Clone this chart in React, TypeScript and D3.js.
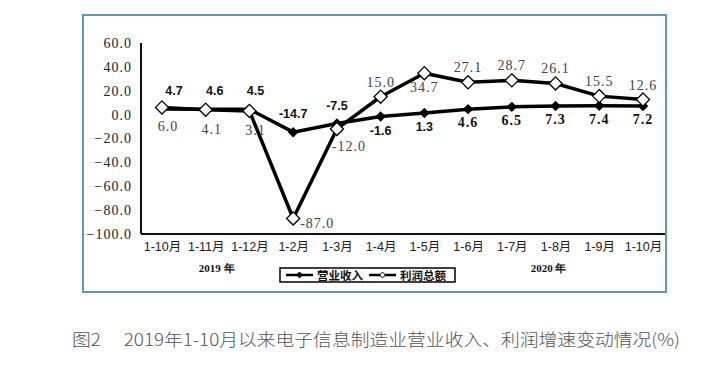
import React, { useEffect, useRef } from 'react';
import * as d3 from 'd3';

const categories = ['1-10月', '1-11月', '1-12月', '1-2月', '1-3月', '1-4月', '1-5月', '1-6月', '1-7月', '1-8月', '1-9月', '1-10月'];
const revenue = [4.7, 4.6, 4.5, -14.7, -7.5, -1.6, 1.3, 4.6, 6.5, 7.3, 7.4, 7.2];
const profit = [6.0, 4.1, 3.1, -87.0, -12.0, 15.0, 34.7, 27.1, 28.7, 26.1, 15.5, 12.6];
const yTicks = [60, 40, 20, 0, -20, -40, -60, -80, -100];
const seriesNames = ['营业收入', '利润总额'];
const yearLabels = ['2019 年', '2020 年'];
const caption = '图2\u3000\u00a02019年1-10月以来电子信息制造业营业收入、利润增速变动情况(%)';

// where each data label sits relative to its marker
const revPlace = ['a', 'a', 'a', 'a', 'a', 'b', 'b', 'b', 'b', 'b', 'b', 'b'];
const profPlace = ['b', 'b', 'b', 'r', 'br', 'a', 'b', 'a', 'a', 'a', 'a', 'a'];

const serif = '"Liberation Serif", "DejaVu Serif", serif';
const sans = '"Liberation Sans", "Noto Sans CJK SC", sans-serif';
const cjk = '"Noto Sans CJK SC", sans-serif';

const App = () => {
  const ref = useRef<SVGSVGElement>(null);

  useEffect(() => {
    if (!ref.current) return;
    const svg = d3.select(ref.current);
    svg.selectAll('*').remove();

    const idx = categories.map((_, i) => i);
    const x = d3.scalePoint<number>().domain(idx).range([162, 643]);
    const y = d3.scaleLinear().domain([-100, 60]).range([234, 43]);

    // outer frame
    svg.append('rect')
      .attr('x', 83).attr('y', 15).attr('width', 583).attr('height', 277)
      .attr('fill', 'white').attr('stroke', '#5b9bb6').attr('stroke-width', 2);

    // y axis
    const yAxis = svg.append('g').attr('transform', 'translate(141,0)')
      .call(d3.axisLeft(y).tickValues(yTicks).tickSize(0).tickPadding(9).tickFormat(d => d3.format('.1f')(d as number)));
    yAxis.select('.domain').attr('stroke', '#111').attr('stroke-width', 2).attr('d', `M0,${y(60)}V${y(-100)}`);
    yAxis.selectAll('text')
      .attr('font-family', serif).attr('font-size', 14).attr('letter-spacing', 1).attr('fill', '#222');

    // x axis
    const xAxis = svg.append('g').attr('transform', `translate(0,${y(-100)})`)
      .call(d3.axisBottom(x).tickSize(0).tickPadding(8).tickFormat(i => categories[i as number]));
    xAxis.select('.domain').attr('stroke', '#111').attr('stroke-width', 2).attr('d', 'M141,0H665');
    xAxis.selectAll('text')
      .attr('font-family', sans).attr('font-size', 12.5).attr('fill', '#222');

    const line = d3.line<number>().x((_, i) => x(i)!).y(d => y(d));
    const diamond = d3.symbol().type(d3.symbolDiamond2).size(70);

    // lines
    [revenue, profit].forEach(vals => {
      svg.append('path').datum(vals)
        .attr('d', line).attr('fill', 'none')
        .attr('stroke', '#000').attr('stroke-width', 3.5).attr('stroke-linejoin', 'round');
    });

    // markers
    svg.append('g').selectAll('path').data(revenue).enter().append('path')
      .attr('d', diamond).attr('transform', (d, i) => `translate(${x(i)},${y(d)})`)
      .attr('fill', '#000');
    svg.append('g').selectAll('path').data(profit).enter().append('path')
      .attr('d', d3.symbol().type(d3.symbolDiamond2).size(110))
      .attr('transform', (d, i) => `translate(${x(i)},${y(d)})`)
      .attr('fill', '#fff').attr('stroke', '#000').attr('stroke-width', 1.3);

    // revenue labels
    svg.append('g').selectAll('text').data(revenue).enter().append('text')
      .attr('x', (d, i) => x(i)! + (i < 3 ? 12 - i * 3 : 0))
      .attr('y', (d, i) => y(d) + (revPlace[i] === 'a' ? -14 : 18))
      .attr('text-anchor', 'middle')
      .attr('font-family', (d, i) => (i < 7 ? sans : serif))
      .attr('font-weight', 'bold')
      .attr('font-size', (d, i) => (i < 7 ? 12.5 : 14))
      .attr('letter-spacing', (d, i) => (i < 7 ? 0 : 1))
      .attr('fill', '#111')
      .text(d => d.toFixed(1));

    // profit labels
    svg.append('g').selectAll('text').data(profit).enter().append('text')
      .attr('x', (d, i) => {
        const p = profPlace[i];
        if (p === 'r') return x(i)! + 7;
        if (p === 'br') return x(i)! + 12;
        return x(i)! + (i < 3 ? 6 : 0);
      })
      .attr('y', (d, i) => {
        const p = profPlace[i];
        if (p === 'r') return y(d) + 10;
        if (p === 'br') return y(d) + 22;
        if (p === 'b') return y(d) + (i < 3 ? 24 : 19);
        return y(d) - 10;
      })
      .attr('text-anchor', (d, i) => (profPlace[i] === 'r' ? 'start' : 'middle'))
      .attr('font-family', serif).attr('font-size', 14).attr('letter-spacing', 1)
      .attr('fill', '#444')
      .text(d => d.toFixed(1));

    // year labels
    svg.append('g').selectAll('text').data(yearLabels).enter().append('text')
      .attr('x', (d, i) => (i === 0 ? x(1)! + 11 : x(9)! - 7))
      .attr('y', 272)
      .attr('text-anchor', 'middle')
      .attr('font-family', serif).attr('font-weight', 'bold').attr('font-size', 11)
      .attr('fill', '#111')
      .text(d => d);

    // legend
    const lg = svg.append('g');
    lg.append('rect').attr('x', 280).attr('y', 268).attr('width', 175).attr('height', 14)
      .attr('fill', '#fff').attr('stroke', '#000').attr('stroke-width', 1.5);
    const legendX = [286, 369];
    seriesNames.forEach((name, k) => {
      const lx = legendX[k];
      lg.append('line').attr('x1', lx).attr('x2', lx + 27).attr('y1', 275).attr('y2', 275)
        .attr('stroke', '#000').attr('stroke-width', 2.5);
      lg.append('path').attr('d', d3.symbol().type(d3.symbolDiamond2).size(22))
        .attr('transform', `translate(${lx + 13.5},275)`)
        .attr('fill', k === 0 ? '#000' : '#fff').attr('stroke', '#000').attr('stroke-width', 1);
      lg.append('text').attr('x', lx + 31).attr('y', 279.5)
        .attr('font-family', cjk).attr('font-weight', 'bold').attr('font-size', 11.5)
        .attr('fill', '#111').text(name);
    });

    // caption
    svg.append('text').attr('x', 72).attr('y', 346)
      .attr('font-family', cjk).attr('font-size', 17).attr('font-weight', 300)
      .attr('fill', '#555').attr('textLength', 608).attr('lengthAdjust', 'spacingAndGlyphs')
      .text(caption);
  }, []);

  return (
    <svg ref={ref} width={718} height={369} style={{ position: 'absolute', left: 0, top: 0, background: '#fff' }} />
  );
};

export default App;
